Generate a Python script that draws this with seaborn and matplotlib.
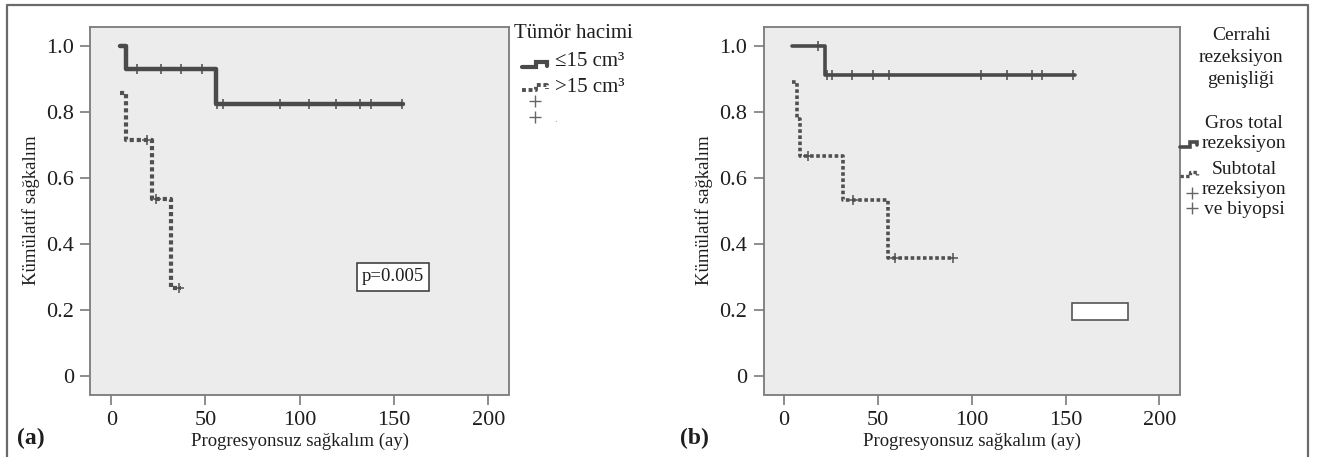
import numpy as np
import pandas as pd
import matplotlib
matplotlib.use("Agg")
import matplotlib.pyplot as plt
from matplotlib.lines import Line2D
from matplotlib.patches import Rectangle
import seaborn as sns

# ---------------- data ----------------
# Panel (a): tumour volume
a_small_t = [4.8, 8.0, 55.6, 155.0]
a_small_s = [1.0, 0.929, 0.825, 0.825]
a_small_cens = [13.6, 26.4, 37.0, 48.0, 56.2, 59.3, 89.4, 105.0, 119.0, 132.2, 137.7, 154.4]

a_large_t = [4.8, 7.6, 21.8, 31.9, 37.0]
a_large_s = [0.857, 0.714, 0.536, 0.268, 0.268]
a_large_cens = [19.0, 23.9, 36.1]

# Panel (b): extent of surgical resection
b_gtr_t = [4.4, 21.8, 155.0]
b_gtr_s = [1.0, 0.913, 0.913]
b_gtr_cens = [18.3, 23.1, 25.4, 36.4, 47.6, 55.8, 104.8, 118.7, 132.0, 137.7, 154.2]

b_str_t = [4.4, 7.1, 8.4, 31.6, 55.6, 90.2]
b_str_s = [0.889, 0.778, 0.667, 0.533, 0.356, 0.356]
b_str_cens = [12.9, 36.9, 59.2, 90.2]

x_ticks = [0, 50, 100, 150, 200]
y_ticks = [0, 0.2, 0.4, 0.6, 0.8, 1.0]
y_ticklabels = ["0", "0.2", "0.4", "0.6", "0.8", "1.0"]

xlabel = "Progresyonsuz sağkalım (ay)"
ylabel = "Kümülatif sağkalım"
p_text = "p=0.005"

# ---------------- style ----------------
sns.set_theme(style="white")
plt.rcParams['font.family'] = ['Liberation Serif', 'DejaVu Serif']

W, H = 1330, 457
fig = plt.figure(figsize=(W / 100, H / 100), dpi=100)
fig.patch.set_facecolor("white")

def P(x, y):
    return x / W, 1 - y / H

SOLID = "#4a4a4a"
DOT = "#505050"
TXT = "#1e1e1e"
SPINE = "#7a7a7a"
FACE = "#ececec"


def cens_y(times, surv, cens):
    t = np.asarray(times)
    s = np.asarray(surv)
    idx = np.searchsorted(t, np.asarray(cens), side="right") - 1
    idx = np.clip(idx, 0, len(s) - 1)
    return s[idx]


def setup_axes(ax):
    ax.set_facecolor(FACE)
    ax.set_xlim(-11, 211)
    ax.set_ylim(-0.056, 1.058)
    ax.set_xticks(x_ticks)
    ax.set_xticklabels([str(v) for v in x_ticks])
    ax.set_yticks(y_ticks)
    ax.set_yticklabels(y_ticklabels)
    for sp in ax.spines.values():
        sp.set_color(SPINE)
        sp.set_linewidth(1.3)
        sp.set_visible(True)
    ax.tick_params(axis="both", direction="out", length=7, width=1.2,
                   color=SPINE, labelcolor=TXT, labelsize=16, pad=5,
                   bottom=True, left=True)
    ax.grid(False)


def draw_curve(ax, t, s, cens, color, lw, ls, marker):
    df = pd.DataFrame({"t": t, "s": s})
    sns.lineplot(data=df, x="t", y="s", ax=ax, drawstyle="steps-post",
                 estimator=None, sort=False, color=color, linewidth=lw,
                 linestyle=ls, legend=False)
    cdf = pd.DataFrame({"t": cens, "s": cens_y(t, s, cens)})
    sns.scatterplot(data=cdf, x="t", y="s", ax=ax, marker=marker, s=55,
                    color=color, linewidth=1.1, legend=False, zorder=5)


def labels(ax):
    ax.set_xlabel(xlabel, fontsize=13.5, color=TXT, labelpad=2)
    ax.set_ylabel(ylabel, fontsize=13.5, color=TXT, labelpad=4)


# ---------------- panel (a) ----------------
axA = fig.add_axes([90.5 / W, 1 - 394.5 / H, (509 - 90.5) / W, (394.5 - 26.7) / H])
setup_axes(axA)
draw_curve(axA, a_small_t, a_small_s, a_small_cens, SOLID, 3.2, "-", "|")
draw_curve(axA, a_large_t, a_large_s, a_large_cens, DOT, 3.0, (0, (1, 0.7)), "+")
labels(axA)
axA.text(149.5, 0.30, p_text, fontsize=13.5, color=TXT, ha="center", va="center",
         bbox=dict(boxstyle="square,pad=0.28", facecolor="white", edgecolor="#333333", linewidth=1.1))

# ---------------- panel (b) ----------------
axB = fig.add_axes([763.5 / W, 1 - 394.5 / H, (1180 - 763.5) / W, (394.5 - 26.7) / H])
setup_axes(axB)
draw_curve(axB, b_gtr_t, b_gtr_s, b_gtr_cens, SOLID, 2.6, "-", "|")
draw_curve(axB, b_str_t, b_str_s, b_str_cens, DOT, 2.6, (0, (1, 0.7)), "+")
labels(axB)
axB.add_patch(Rectangle((153.6, 0.170), 29.5, 0.051, facecolor="white",
                        edgecolor="#555555", linewidth=1.2, zorder=6))

# ---------------- panel letters ----------------
fig.text(*P(17, 438), "(a)", fontsize=17, fontweight="bold", color=TXT, ha="left", va="center")
fig.text(*P(680, 438), "(b)", fontsize=17, fontweight="bold", color=TXT, ha="left", va="center")

# ---------------- legend helpers ----------------
def icon(points, color, lw, ls):
    xs = [P(x, y)[0] for x, y in points]
    ys = [P(x, y)[1] for x, y in points]
    fig.add_artist(Line2D(xs, ys, color=color, linewidth=lw, linestyle=ls,
                          transform=fig.transFigure, solid_joinstyle="miter"))

def plus(x, y, size=8.5):
    fx, fy = P(x, y)
    fig.add_artist(Line2D([fx], [fy], marker="+", markersize=size, markeredgewidth=1.0,
                          color="#666666", linestyle="none", transform=fig.transFigure))

# ---------------- legend (a) ----------------
LEG = 15
fig.text(*P(514, 33), "Tümör hacimi", fontsize=LEG, color=TXT, ha="left", va="center")
icon([(522, 67), (536, 67), (536, 61.5), (547, 61.5), (547, 66)], SOLID, 3.0, "-")
fig.text(*P(555, 62), "≤15 cm³", fontsize=LEG, color=TXT, ha="left", va="center")
icon([(522, 90), (536, 90), (536, 85), (547, 85), (547, 89)], DOT, 2.8, (0, (1, 0.7)))
fig.text(*P(555, 87), ">15 cm³", fontsize=LEG, color=TXT, ha="left", va="center")
plus(535, 101)
plus(535, 117)
fig.text(*P(556, 120), ".", fontsize=8, color="#aaaaaa", ha="center", va="center")

# ---------------- legend (b) ----------------
LB = 14
for txt, y in [("Cerrahi", 36), ("rezeksiyon", 57), ("genişliği", 80)]:
    fig.text(*P(1241, y), txt, fontsize=LB, color=TXT, ha="center", va="center")
for txt, y in [("Gros total", 124), ("rezeksiyon", 144)]:
    fig.text(*P(1244, y), txt, fontsize=LB, color=TXT, ha="center", va="center")
for txt, y in [("Subtotal", 170), ("rezeksiyon", 189), ("ve biyopsi", 209)]:
    fig.text(*P(1244, y), txt, fontsize=LB, color=TXT, ha="center", va="center")
icon([(1180, 147), (1190, 147), (1190, 141.5), (1197, 141.5), (1197, 145)], SOLID, 2.6, "-")
icon([(1180, 176), (1190, 176), (1190, 171.5), (1197, 171.5), (1197, 175)], DOT, 2.4, (0, (1, 0.7)))
plus(1192, 193, 8)
plus(1192, 208, 8)

# ---------------- outer frame ----------------
fig.add_artist(Line2D([6.5 / W, 6.5 / W, 1308 / W, 1308 / W],
                      [0, 1 - 5 / H, 1 - 5 / H, 0], color="#6a6a6a", linewidth=1.6,
                      transform=fig.transFigure))

fig.savefig("out.png", dpi=100, facecolor="white")
